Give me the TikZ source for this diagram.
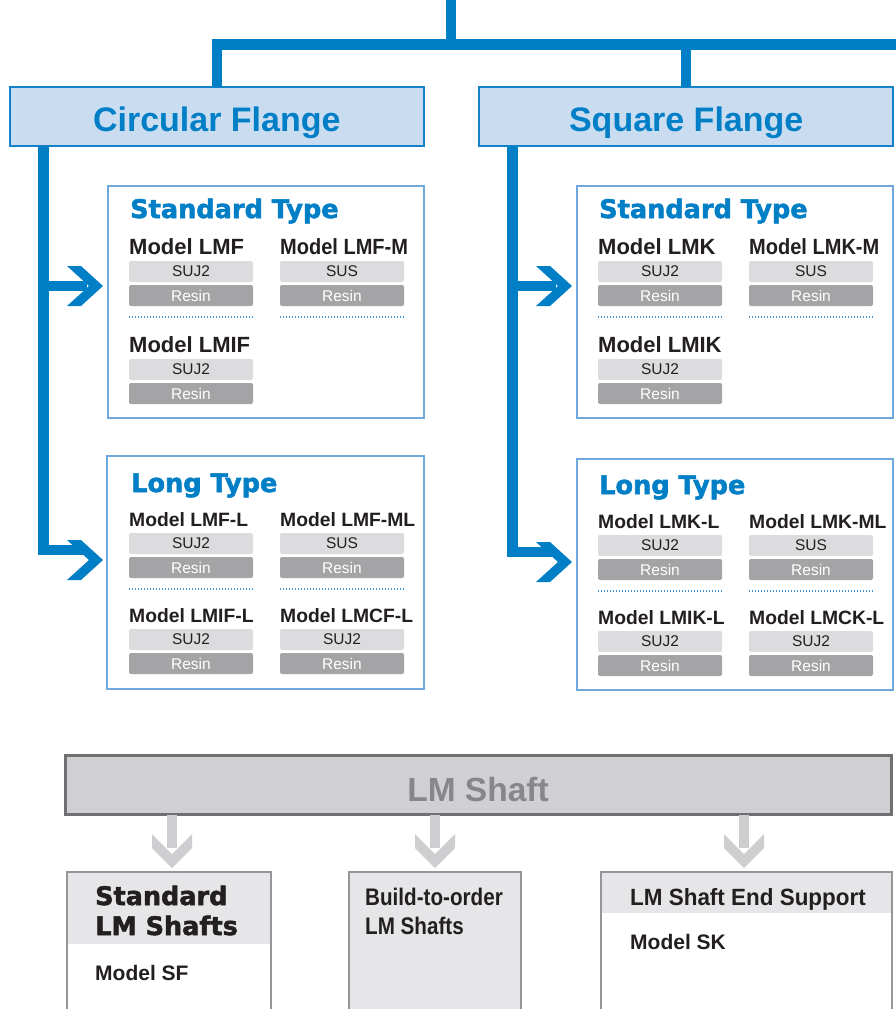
\documentclass[tikz,border=0pt]{standalone}
\usepackage{fontspec}
\setmainfont{Liberation Sans}
\newfontfamily\widefont{DejaVu Sans}[BoldFeatures={FakeBold=2}]
\usepackage{graphicx}
\usetikzlibrary{calc}
\definecolor{tblue}{RGB}{0,127,198}
\definecolor{flfill}{RGB}{201,220,240}
\definecolor{flline}{RGB}{20,130,200}
\definecolor{cardline}{RGB}{111,168,220}
\definecolor{lgray}{RGB}{220,220,222}
\definecolor{dgray}{RGB}{164,164,166}
\definecolor{dotblue}{RGB}{70,150,215}
\definecolor{shaftfill}{RGB}{208,208,210}
\definecolor{shaftline}{RGB}{112,112,114}
\definecolor{shafttext}{RGB}{135,135,137}
\definecolor{arrgray}{RGB}{206,206,208}
\definecolor{boxfill}{RGB}{230,230,232}
\definecolor{boxline}{RGB}{150,150,152}
\definecolor{ink}{RGB}{35,31,32}
\def\mfs{22}
\tikzset{
  conn/.style={draw=tblue, line width=10.5pt},
  gconn/.style={draw=arrgray, line width=10pt},
  flange/.style={draw=flline, fill=flfill, line width=2pt, minimum width=414.4pt, minimum height=59pt, inner sep=0pt, outer sep=0pt},
  fltext/.style={text=tblue, font=\bfseries\fontsize{34}{36}\selectfont, inner sep=0pt, anchor=base},
  card/.style={draw=cardline, line width=2.5pt, fill=white, inner sep=0pt, outer sep=0pt, anchor=north west},
  head/.style={text=tblue, font=\widefont\bfseries\fontsize{25.6}{28}\selectfont, inner sep=0pt, anchor=base west},
  mname/.style={text=ink, font=\bfseries\fontsize{\mfs}{\mfs}\selectfont, inner sep=0pt, anchor=base west},
  barlight/.style={fill=lgray, rounded corners=2pt, minimum width=124pt, minimum height=21pt, inner sep=0pt, outer sep=0pt, anchor=north west, text=ink, font=\fontsize{15.5}{16}\selectfont},
  bardark/.style={fill=dgray, rounded corners=2pt, minimum width=124pt, minimum height=21pt, inner sep=0pt, outer sep=0pt, anchor=north west, text=white, font=\fontsize{15.5}{16}\selectfont},
  dotline/.style={draw=dotblue, line width=1.6pt, dash pattern=on 1.1pt off 1.9pt},
  shaftbox/.style={draw=shaftline, fill=shaftfill, line width=3pt, inner sep=0pt, outer sep=0pt},
  shafttxt/.style={text=shafttext, font=\bfseries\fontsize{33.5}{36}\selectfont, inner sep=0pt, anchor=base},
  bbox/.style={draw=boxline, line width=2pt, inner sep=0pt, outer sep=0pt, anchor=north west},
  btxt/.style={text=ink, font=\bfseries\fontsize{24}{26}\selectfont, inner sep=0pt, anchor=base west},
  bwide/.style={text=ink, font=\widefont\bfseries\fontsize{25.5}{28}\selectfont, inner sep=0pt, anchor=base west},
  bmodel/.style={text=ink, font=\bfseries\fontsize{21}{24}\selectfont, inner sep=0pt, anchor=base west},
}
% model entry: name prefix, x, baseline, model text, material, xscale
\newcommand{\mentry}[6]{%
  \node[mname] (#1n) at (#2,#3) {\scalebox{#6}[1]{#4}};
  \node[barlight] (#1a) at (#2,#3+7) {#5};
  \node[bardark] (#1b) at (#2,#3+31) {Resin};
}
% blue chevron, tip at coordinate
\newcommand{\bluechev}[1]{%
  \fill[tblue] ($(#1)+(-36,-20)$) -- ($(#1)+(-22,-20)$) -- (#1) -- ($(#1)+(-22,20)$) -- ($(#1)+(-36,20)$) -- ($(#1)+(-14,0)$) -- cycle;
}
% gray chevron pointing down, tip at coordinate
\newcommand{\graychev}[1]{%
  \fill[arrgray] ($(#1)+(-20,-34)$) -- ($(#1)+(-20,-20)$) -- (#1) -- ($(#1)+(20,-20)$) -- ($(#1)+(20,-34)$) -- ($(#1)+(0,-14)$) -- cycle;
}
\begin{document}
\begin{tikzpicture}[x=1pt,y=-1pt]
\useasboundingbox (0,0) rectangle (895,1009);

% ---------- flange boxes ----------
\node[flange] (cf) at (216.8,116.2) {};
\node[fltext] (cft) at (216.8,131) {Circular Flange};
\node[flange] (sf) at (686.2,116.2) {};
\node[fltext] (sft) at (686.2,131) {Square Flange};

% ---------- top tree ----------
\coordinate (top) at (451,0);
\coordinate (barend) at (897,44.5);
\draw[conn] (top) -- (top |- barend);
\draw[conn] (cf.north) -- (cf.north |- barend) -- (barend);
\draw[conn] (sf.north) -- (sf.north |- barend);

% ---------- cards ----------
\node[card, minimum width=315.6pt, minimum height=231.6pt] (lstd) at (108.2,186.2) {};
\node[card, minimum width=316.6pt, minimum height=232.6pt] (llong) at (107.2,456.2) {};
\node[card, minimum width=315.6pt, minimum height=231.6pt] (rstd) at (577.2,186.2) {};
\node[card, minimum width=315.6pt, minimum height=230.6pt] (rlong) at (577.2,459.2) {};

% ---------- blue arrows ----------
\coordinate (tls) at (103,286);
\coordinate (tll) at (103,560);
\coordinate (trs) at (572,286);
\coordinate (trl) at (572,562);
\coordinate (trunkL) at (43.5,0);
\coordinate (trunkR) at (512.3,0);
\draw[conn] (cf.south -| trunkL) -- ($(trunkL |- tll)+(0,-10)$) -- ($(tll)+(-18,-10)$);
\draw[conn] (trunkL |- tls) -- ($(tls)+(-16,0)$);
\draw[conn] (sf.south -| trunkR) -- ($(trunkR |- trl)+(0,-10)$) -- ($(trl)+(-18,-10)$);
\draw[conn] (trunkR |- trs) -- ($(trs)+(-16,0)$);
\bluechev{tls}
\bluechev{tll}
\bluechev{trs}
\bluechev{trl}

% ---------- left standard ----------
\node[head] (lsh) at (130,218) {Standard Type};
\def\mfs{22}
\mentry{a1}{129}{254}{Model LMF}{SUJ2}{1}
\mentry{a2}{280}{254}{Model LMF-M}{SUS}{0.91}
\draw[dotline] (129,317) -- (253,317);
\draw[dotline] (280,317) -- (404,317);
\mentry{a3}{129}{352}{Model LMIF}{SUJ2}{1}

% ---------- left long ----------
\node[head] (llh) at (131,492) {Long Type};
\def\mfs{19.3}
\mentry{b1}{129}{526}{Model LMF-L}{SUJ2}{1}
\mentry{b2}{280}{526}{Model LMF-ML}{SUS}{1}
\draw[dotline] (129,589) -- (253,589);
\draw[dotline] (280,589) -- (404,589);
\mentry{b3}{129}{622}{Model LMIF-L}{SUJ2}{1}
\mentry{b4}{280}{622}{Model LMCF-L}{SUJ2}{1}

% ---------- right standard ----------
\node[head] (rsh) at (599,218) {Standard Type};
\def\mfs{22}
\mentry{c1}{598}{254}{Model LMK}{SUJ2}{1}
\mentry{c2}{749}{254}{Model LMK-M}{SUS}{0.91}
\draw[dotline] (598,317) -- (722,317);
\draw[dotline] (749,317) -- (873,317);
\mentry{c3}{598}{352}{Model LMIK}{SUJ2}{1}

% ---------- right long ----------
\node[head] (rlh) at (599,494) {Long Type};
\def\mfs{19.3}
\mentry{d1}{598}{528}{Model LMK-L}{SUJ2}{1}
\mentry{d2}{749}{528}{Model LMK-ML}{SUS}{1}
\draw[dotline] (598,591) -- (722,591);
\draw[dotline] (749,591) -- (873,591);
\mentry{d3}{598}{624}{Model LMIK-L}{SUJ2}{1}
\mentry{d4}{749}{624}{Model LMCK-L}{SUJ2}{1}

% ---------- LM Shaft ----------
\node[shaftbox, minimum width=826pt, minimum height=59pt] (shaft) at (478.5,785) {};
\node[shafttxt] (shaftt) at (478,801) {LM Shaft};

% bottom boxes
\fill[boxfill] (67,872) rectangle (271,944);
\node[bbox, minimum width=204pt, minimum height=145pt] (sb1) at (67,872) {};
\node[bbox, fill=boxfill, minimum width=172pt, minimum height=145pt] (sb2) at (349,872) {};
\fill[boxfill] (601,872) rectangle (892,913);
\node[bbox, minimum width=291pt, minimum height=145pt] (sb3) at (601,872) {};

\node[bwide] (s1a) at (95,905) {Standard};
\node[bwide] (s1b) at (95,935) {LM Shafts};
\node[bmodel] (s1c) at (95,980) {Model SF};
\node[btxt] (s2a) at (365,905) {\scalebox{0.86}[1]{Build-to-order}};
\node[btxt] (s2b) at (365,934) {\scalebox{0.86}[1]{LM Shafts}};
\node[btxt, font=\bfseries\fontsize{23.5}{26}\selectfont] (s3a) at (630,905) {\scalebox{0.955}[1]{LM Shaft End Support}};
\node[bmodel] (s3b) at (630,949) {Model SK};

% gray arrows
\coordinate (g1) at (172,868);
\coordinate (g2) at (435,868);
\coordinate (g3) at (744,868);
\draw[gconn] (shaft.south -| g1) -- ($(g1)+(0,-20)$);
\draw[gconn] (shaft.south -| g2) -- ($(g2)+(0,-20)$);
\draw[gconn] (shaft.south -| g3) -- ($(g3)+(0,-20)$);
\graychev{g1}
\graychev{g2}
\graychev{g3}
\end{tikzpicture}
\end{document}
